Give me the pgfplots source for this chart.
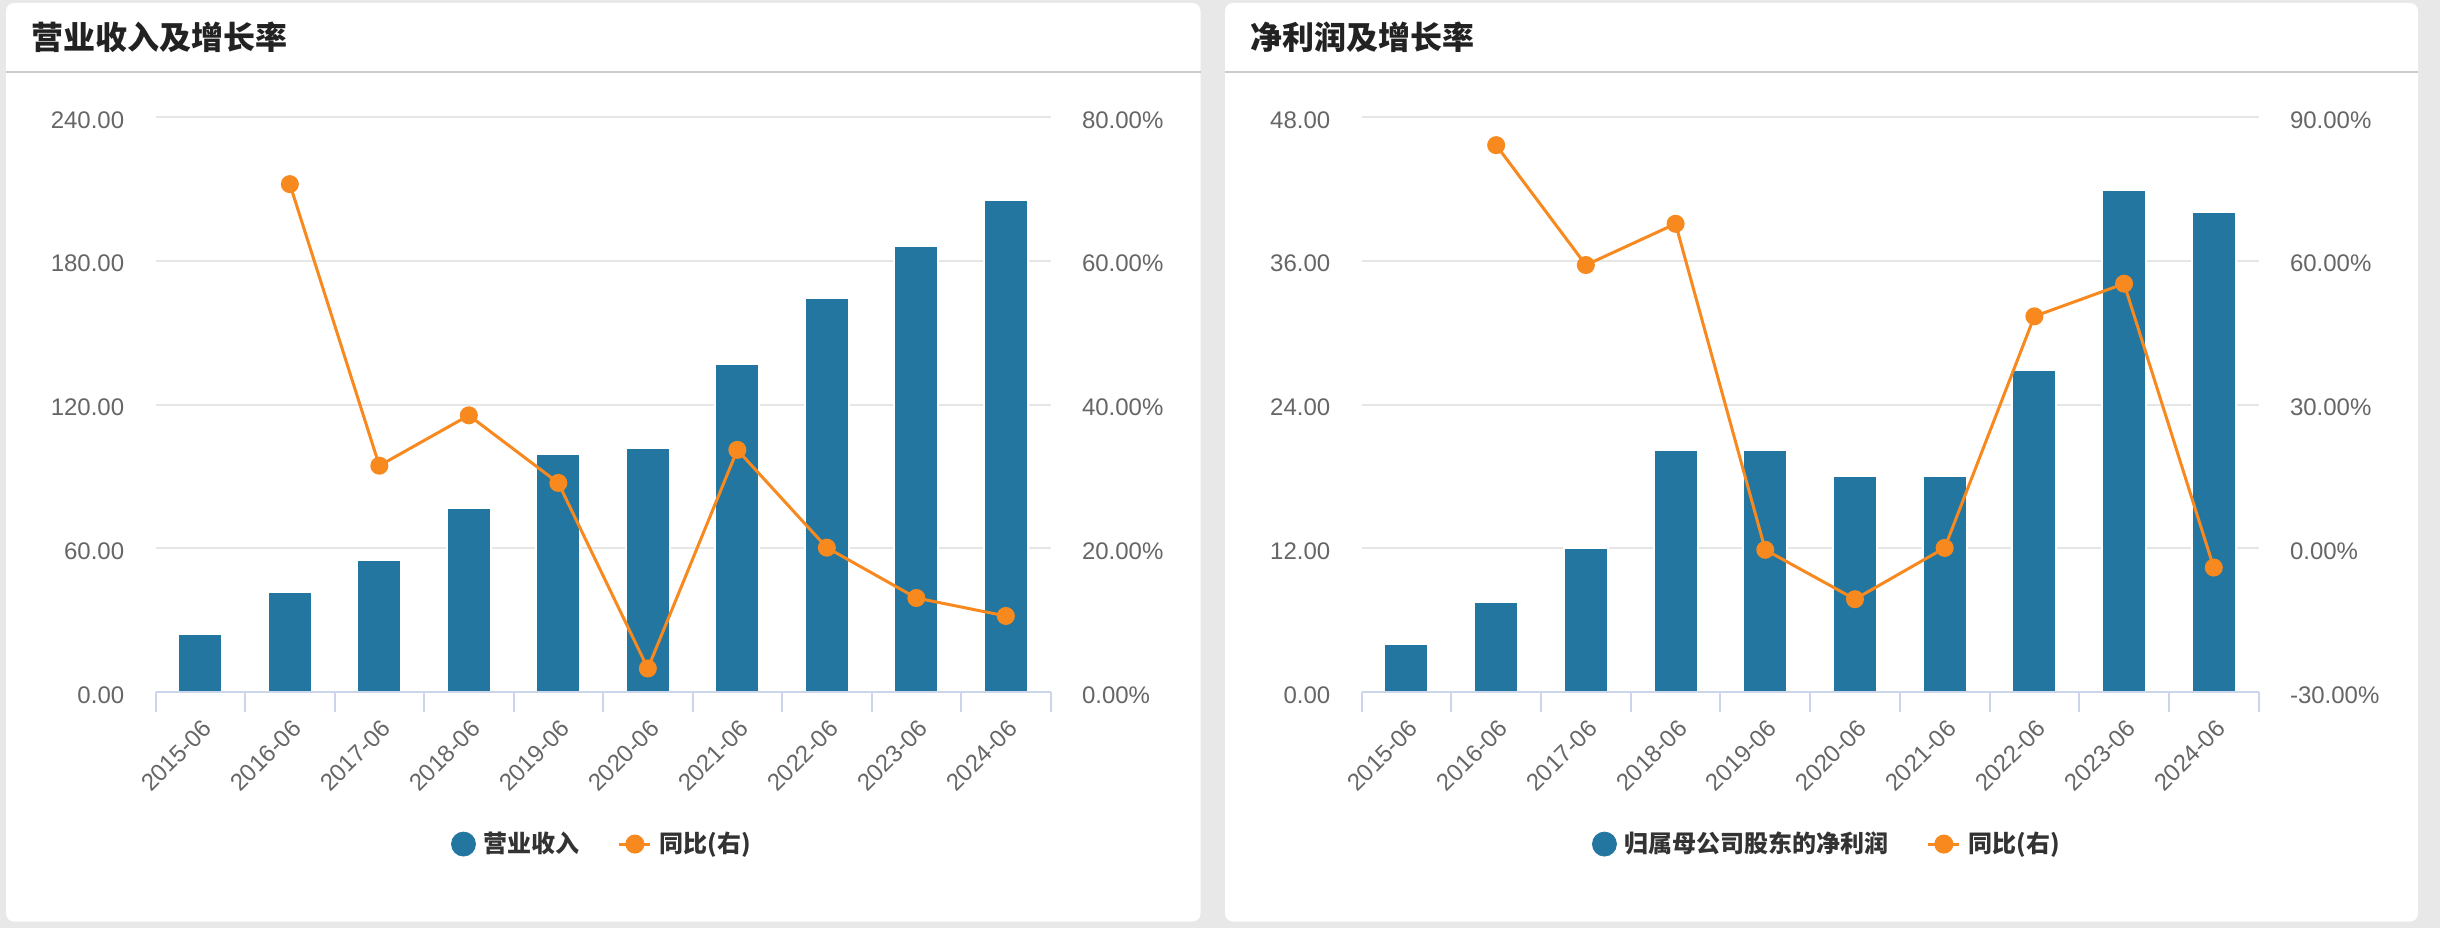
\documentclass[border=0pt]{standalone}
\usepackage{fontspec}
\usepackage{pgfplots}
\pgfplotsset{compat=1.18}
\setmainfont{Liberation Sans}
\newfontfamily\cjk{Noto Sans CJK SC}
\definecolor{barblue}{RGB}{34,118,160}
\definecolor{lineorange}{RGB}{247,137,30}
\definecolor{gridgray}{RGB}{230,230,230}
\definecolor{axisblue}{RGB}{204,214,235}
\definecolor{tickgray}{RGB}{102,102,102}
\definecolor{legtext}{RGB}{51,51,51}
\definecolor{titletext}{RGB}{34,34,34}
\definecolor{bggray}{RGB}{232,232,232}
\definecolor{sepgray}{RGB}{204,204,204}

\pgfplotstableread{
x  rev    pr
0  24.25  4.02
1  41.7   7.52
2  55.1   12.04
3  76.9   20.22
4  99.3   20.22
5  101.9  18.05
6  136.9  18.05
7  164.5  26.89
8  186.1  41.9
9  205.4  40.05
}\bardata
\pgfplotstableread{
x  revg   prg
1  70.65  84.1
2  31.5   59.1
3  38.5   67.7
4  29.1   -0.3
5  3.3    -10.6
6  33.7   0.1
7  20.1   48.4
8  13.1   55.2
9  10.6   -4.0
}\linedata

\pgfplotsset{
  common/.style={
    scale only axis, height=287.65pt,
    xmin=-0.5, xmax=9.5, enlargelimits=false,
    major tick length=0pt,
    tick label style={font=\fontsize{12pt}{14pt}\selectfont, text=tickgray},
    anchor=south west,
  },
  barax/.style={common,
    axis line style={draw=none},
    xtick=\empty,
    ymajorgrids, grid style={draw=gridgray, line width=1pt},
    ytick style={draw=none},
    yticklabel style={anchor=east, inner sep=0pt, xshift=-15.5pt, yshift=-1.5pt},
  },
  lineax/.style={common,
    axis x line*=bottom, axis y line*=right,
    x axis line style={-, draw=axisblue, line width=1pt},
    y axis line style={draw=none},
    xtick={0,...,9},
    xticklabels={2015-06,2016-06,2017-06,2018-06,2019-06,2020-06,2021-06,2022-06,2023-06,2024-06},
    minor xtick={-0.5,0.5,...,9.5},
    tick align=outside,
    minor tick length=10pt,
    minor x tick style={draw=axisblue, line width=1pt},
    major x tick style={draw=none},
    ytick style={draw=none},
    xticklabel style={xshift=3.7pt, yshift=-16pt, rotate=45, anchor=east, inner sep=0pt},
    yticklabel style={anchor=west, inner sep=0pt, xshift=15.5pt, yshift=-1.5pt},
    legend columns=2,
    legend style={draw=none, fill=none, anchor=center,
      font=\cjk\bfseries\fontsize{12pt}{14pt}\selectfont, text=legtext,
      /tikz/every odd column/.append style={column sep=2pt},
      /tikz/every even column/.append style={column sep=17pt}},
  },
  barstyle/.style={ybar, bar width=22pt, fill=barblue, draw=white, line width=1pt},
  linestyle/.style={lineorange, line width=1.5pt, mark=*, mark size=3.75pt,
    mark options={draw=none, fill=lineorange},
    legend image code/.code={
      \draw[lineorange, line width=1.5pt] (0pt,0pt) -- (15.5pt,0pt);
      \fill[lineorange] (7.75pt,0pt) circle (4pt);}},
  circleimg/.style={legend image code/.code={\fill[barblue] (6pt,0pt) circle (6pt);}},
}

\begin{document}
\begin{tikzpicture}
% background and cards
\fill[bggray] (0pt,0pt) rectangle (1220pt,464pt);
\fill[white, rounded corners=4pt] (3pt,3.25pt) rectangle (600.25pt,462.5pt);
\fill[white, rounded corners=4pt] (612.5pt,3.25pt) rectangle (1209pt,462.5pt);
\draw[sepgray, line width=1pt] (3pt,428pt) -- (600.25pt,428pt);
\draw[sepgray, line width=1pt] (612.5pt,428pt) -- (1209pt,428pt);
\node[anchor=west, inner sep=0pt, text=titletext, font=\cjk\bfseries\fontsize{16pt}{19pt}\selectfont] at (15.5pt,445.5pt) {营业收入及增长率};
\node[anchor=west, inner sep=0pt, text=titletext, font=\cjk\bfseries\fontsize{16pt}{19pt}\selectfont] at (625pt,445.5pt) {净利润及增长率};

% ---- left chart
\begin{axis}[barax, width=447.5pt, at={(77.8pt,117.9pt)},
  ymin=0, ymax=240, ytick={0,60,120,180,240},
  yticklabels={0.00,60.00,120.00,180.00,240.00}]
\addplot[barstyle] table[x=x, y=rev] {\bardata};
\end{axis}
\begin{axis}[lineax, width=447.5pt, at={(77.8pt,117.9pt)},
  ymin=0, ymax=80, ytick={0,20,40,60,80},
  yticklabels={0.00\%,20.00\%,40.00\%,60.00\%,80.00\%},
  legend style={at={(0.5,-0.264)}}]
\addlegendimage{circleimg}
\addlegendentry{营业收入}
\addplot[linestyle] table[x=x, y=revg] {\linedata};
\addlegendentry{同比(右)}
\end{axis}

% ---- right chart
\begin{axis}[barax, width=448.5pt, at={(680.8pt,117.9pt)},
  ymin=0, ymax=48, ytick={0,12,24,36,48},
  yticklabels={0.00,12.00,24.00,36.00,48.00}]
\addplot[barstyle] table[x=x, y=pr] {\bardata};
\end{axis}
\begin{axis}[lineax, width=448.5pt, at={(680.8pt,117.9pt)},
  ymin=-30, ymax=90, ytick={-30,0,30,60,90},
  yticklabels={-30.00\%,0.00\%,30.00\%,60.00\%,90.00\%},
  legend style={at={(0.52,-0.264)}}]
\addlegendimage{circleimg}
\addlegendentry{归属母公司股东的净利润}
\addplot[linestyle] table[x=x, y=prg] {\linedata};
\addlegendentry{同比(右)}
\end{axis}
\end{tikzpicture}
\end{document}
